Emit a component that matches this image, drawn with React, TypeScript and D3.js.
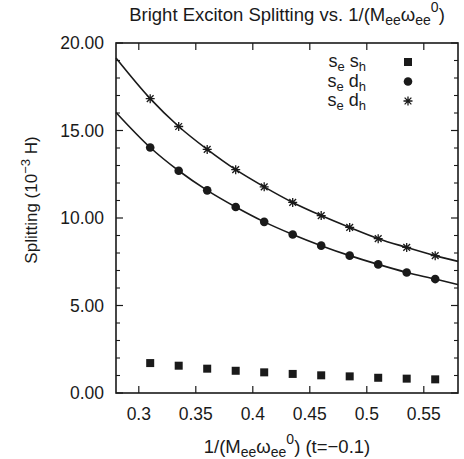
import React from 'react';
import * as d3 from 'd3';

// values
const xValues = [0.31, 0.335, 0.36, 0.385, 0.41, 0.435, 0.46, 0.485, 0.51, 0.535, 0.56];
const seSh = [1.71, 1.56, 1.39, 1.27, 1.18, 1.09, 1.01, 0.95, 0.87, 0.82, 0.78];
const seDhCircle = [14.03, 12.7, 11.58, 10.63, 9.78, 9.06, 8.42, 7.85, 7.35, 6.89, 6.51];
const seDhStar = [16.82, 15.23, 13.92, 12.76, 11.78, 10.89, 10.14, 9.46, 8.82, 8.32, 7.85];

// fitted curves, read at the plot edges
const fitEdgesX = [0.28, 0.58];
const circleFitEdges = [16.03, 6.19];
const starFitEdges = [19.14, 7.52];

const xTicks = [0.3, 0.35, 0.4, 0.45, 0.5, 0.55];
const xTickLabels = ['0.3', '0.35', '0.4', '0.45', '0.5', '0.55'];
const yTicks = [0, 5, 10, 15, 20];
const yTickLabels = ['0.00', '5.00', '10.00', '15.00', '20.00'];

const W = 464;
const H = 459;
const margin = { left: 116, right: 6, top: 43, bottom: 66 };
const ink = '#1a1a1a';
const font = '"Liberation Sans", Arial, Helvetica, sans-serif';

const App = () => {
  const x = d3.scaleLinear().domain([0.28, 0.58]).range([margin.left, W - margin.right]);
  const y = d3.scaleLinear().domain([0, 20]).range([H - margin.bottom, margin.top]);
  const [x0, x1] = x.range();
  const [y0, y1] = y.range();

  const fitLine = d3.line<[number, number]>()
    .x(d => x(d[0]))
    .y(d => y(d[1]))
    .curve(d3.curveMonotoneX);

  const fitPoints = (edges: number[], vals: number[]): [number, number][] => [
    [fitEdgesX[0], edges[0]],
    ...xValues.map((v, i) => [v, vals[i]] as [number, number]),
    [fitEdgesX[1], edges[1]],
  ];

  const minorY = d3.range(0, 21, 1).filter(v => v % 5 !== 0);

  const starPath = (s: number) => {
    const d = s * 0.75;
    return `M0,${-s}L0,${s}M${-s},0L${s},0M${-d},${-d}L${d},${d}M${-d},${d}L${d},${-d}`;
  };

  const legendRows = [
    { sub2: 's', kind: 'square' },
    { sub2: 'd', kind: 'circle' },
    { sub2: 'd', kind: 'star' },
  ];

  const marker = (kind: string, cx: number, cy: number, key: string | number) => {
    if (kind === 'square') return <rect key={key} x={cx - 4} y={cy - 4} width={8} height={8} fill={ink} />;
    if (kind === 'circle') return <circle key={key} cx={cx} cy={cy} r={4.3} fill={ink} />;
    return <path key={key} d={starPath(4.5)} transform={`translate(${cx},${cy})`} stroke={ink} strokeWidth={1.3} fill="none" />;
  };

  return (
    <svg width={W} height={H} style={{ position: 'absolute', left: 0, top: 0, background: '#fff' }} fontFamily={font}>
      {/* title */}
      <text x={(x0 + x1) / 2} y={21} textAnchor="middle" fontSize={18.5} fill={ink}>
        Bright Exciton Splitting vs. 1/(M
        <tspan fontSize={14} dy={4}>ee</tspan>
        <tspan dy={-4}>ω</tspan>
        <tspan fontSize={14} dy={4}>ee</tspan>
        <tspan fontSize={14} dy={-13}>0</tspan>
        <tspan dy={9}>)</tspan>
      </text>

      {/* fit curves */}
      <path d={fitLine(fitPoints(starFitEdges, seDhStar)) || ''} fill="none" stroke={ink} strokeWidth={1.6} />
      <path d={fitLine(fitPoints(circleFitEdges, seDhCircle)) || ''} fill="none" stroke={ink} strokeWidth={1.6} />

      {/* markers */}
      {xValues.map((v, i) => marker('square', x(v), y(seSh[i]), `sq${i}`))}
      {xValues.map((v, i) => marker('circle', x(v), y(seDhCircle[i]), `ci${i}`))}
      {xValues.map((v, i) => marker('star', x(v), y(seDhStar[i]), `st${i}`))}

      {/* ticks */}
      {xTicks.map(t => (
        <g key={`xt${t}`} stroke={ink} strokeWidth={1.2}>
          <line x1={x(t)} x2={x(t)} y1={y0} y2={y0 - 7} />
          <line x1={x(t)} x2={x(t)} y1={y1} y2={y1 + 7} />
        </g>
      ))}
      {yTicks.map(t => (
        <g key={`yt${t}`} stroke={ink} strokeWidth={1.2}>
          <line x1={x0} x2={x0 + 7} y1={y(t)} y2={y(t)} />
          <line x1={x1} x2={x1 - 7} y1={y(t)} y2={y(t)} />
        </g>
      ))}
      {minorY.map(t => (
        <g key={`ym${t}`} stroke={ink} strokeWidth={1.1}>
          <line x1={x0} x2={x0 + 4} y1={y(t)} y2={y(t)} />
          <line x1={x1} x2={x1 - 4} y1={y(t)} y2={y(t)} />
        </g>
      ))}

      {/* frame */}
      <rect x={x0} y={y1} width={x1 - x0} height={y0 - y1} fill="none" stroke={ink} strokeWidth={1.6} />

      {/* tick labels */}
      {xTicks.map((t, i) => (
        <text key={`xl${t}`} x={x(t)} y={y0 + 27} textAnchor="middle" fontSize={17.5} fill={ink}>{xTickLabels[i]}</text>
      ))}
      {yTicks.map((t, i) => (
        <text key={`yl${t}`} x={x0 - 12} y={y(t) + 6} textAnchor="end" fontSize={17.5} fill={ink}>{yTickLabels[i]}</text>
      ))}

      {/* axis titles */}
      <text x={(x0 + x1) / 2} y={y0 + 60} textAnchor="middle" fontSize={18.5} fill={ink}>
        1/(M
        <tspan fontSize={14} dy={4}>ee</tspan>
        <tspan dy={-4}>ω</tspan>
        <tspan fontSize={14} dy={4}>ee</tspan>
        <tspan fontSize={14} dy={-13}>0</tspan>
        <tspan dy={9}>) (t=−0.1)</tspan>
      </text>
      <text transform={`translate(37,${(y0 + y1) / 2 - 18}) rotate(-90)`} textAnchor="middle" fontSize={17} fill={ink}>
        Splitting (10
        <tspan fontSize={13} dy={-7}>−3</tspan>
        <tspan dy={7}> H)</tspan>
      </text>

      {/* legend */}
      {legendRows.map((r, i) => (
        <g key={`lg${i}`}>
          <text x={366} y={67 + i * 19.5} textAnchor="end" fontSize={18} fill={ink}>
            s
            <tspan fontSize={13} dy={4}>e</tspan>
            <tspan dy={-4}> {r.sub2}</tspan>
            <tspan fontSize={13} dy={4}>h</tspan>
          </text>
          {marker(r.kind, 408, 62 + i * 19.5, `lm${i}`)}
        </g>
      ))}
    </svg>
  );
};

export default App;
